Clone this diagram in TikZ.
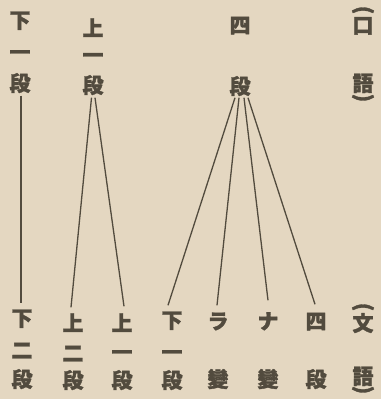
\documentclass[tikz,border=0pt]{standalone}
\usepackage{fontspec}
\newfontfamily\cjk{Noto Sans CJK JP}[FakeBold=1.5]
\definecolor{paper}{HTML}{E4D7C1}
\definecolor{ink}{HTML}{524B3E}
\begin{document}
\begin{tikzpicture}[x=1pt,y=-1pt,
  cjkfont/.style={font=\cjk\bfseries\fontsize{21}{21}\selectfont, text=ink, inner sep=0pt},
  ch/.style={cjkfont, text height=18.5pt, text depth=2.5pt, anchor=center},
  paren/.style={cjkfont, rotate=-90, anchor=center},
  link/.style={draw=ink, line width=1.3pt}]
\fill[paper] (0,0) rectangle (381,399);
\useasboundingbox (0,0) rectangle (381,399);
% top row
\node[ch] (t1a) at (20,20) {下};
\node[ch] (t1b) at (20,52) {一};
\node[ch] (t1c) at (20,83) {段};
\node[ch] (t2a) at (93,28) {上};
\node[ch] (t2b) at (93,55) {一};
\node[ch] (t2c) at (93,85) {段};
\node[ch] (t3a) at (240,25) {四};
\node[ch] (t3c) at (240,86) {段};
\node[paren] (t4p) at (363,10) {(};
\node[ch] (t4a) at (363,25) {口};
\node[ch] (t4b) at (363,83) {語};
\node[paren] (t4q) at (363,98) {)};
% bottom row
\node[ch] (b1a) at (22,318) {下};
\node[ch] (b1b) at (22,350) {二};
\node[ch] (b1c) at (22,379) {段};
\node[ch] (b2a) at (73,323) {上};
\node[ch] (b2b) at (73,353) {二};
\node[ch] (b2c) at (73,380) {段};
\node[ch] (b3a) at (122,323) {上};
\node[ch] (b3b) at (122,352) {一};
\node[ch] (b3c) at (122,380) {段};
\node[ch] (b4a) at (172,320) {下};
\node[ch] (b4b) at (172,352) {一};
\node[ch] (b4c) at (172,380) {段};
\node[ch] (b5a) at (218,321) {ラ};
\node[ch] (b5c) at (218,379) {變};
\node[ch] (b6a) at (268,321) {ナ};
\node[ch] (b6c) at (268,379) {變};
\node[ch] (b7a) at (316,321) {四};
\node[ch] (b7c) at (316,379) {段};
\node[paren] (b8p) at (363,307) {(};
\node[ch] (b8a) at (363,323) {文};
\node[ch] (b8b) at (363,376) {語};
\node[paren] (b8q) at (363,390) {)};
% connectors
\draw[link] ([shift={(1,2)}]t1c.south) -- ([shift={(-1,-4)}]b1a.north);
\draw[link] ([shift={(-1.5,2)}]t2c.south) -- ([shift={(-2,-5)}]b2a.north);
\draw[link] ([shift={(2,2)}]t2c.south) -- ([shift={(2,-6)}]b3a.north);
\draw[link] ([shift={(-5,1)}]t3c.south) -- ([shift={(-4,-4)}]b4a.north);
\draw[link] ([shift={(-1,1)}]t3c.south) -- ([shift={(-1,-5)}]b5a.north);
\draw[link] ([shift={(4,1)}]t3c.south) -- ([shift={(0,-10)}]b6a.north);
\draw[link] ([shift={(8,1)}]t3c.south) -- ([shift={(-1,-6)}]b7a.north);
\end{tikzpicture}
\end{document}
